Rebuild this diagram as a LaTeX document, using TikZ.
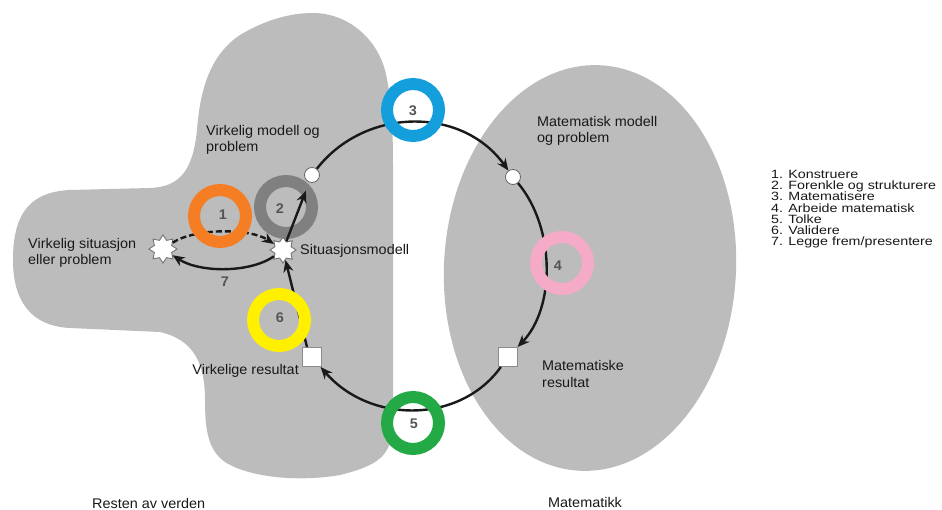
\documentclass[tikz,border=0pt]{standalone}
\usepackage{fontspec}
\setmainfont{Liberation Sans}
\newfontfamily\lblfont[FakeStretch=1.03]{Liberation Sans}
\newfontfamily\legfont[FakeStretch=1.19]{Liberation Sans}
\usetikzlibrary{arrows.meta,shapes.geometric}

\definecolor{areagrey}{RGB}{188,188,188}
\definecolor{numgrey}{RGB}{85,85,85}
\definecolor{ringorange}{RGB}{245,125,35}
\definecolor{ringgrey}{RGB}{128,128,128}
\definecolor{ringblue}{RGB}{20,158,220}
\definecolor{ringpink}{RGB}{245,170,200}
\definecolor{ringgreen}{RGB}{35,170,70}
\definecolor{ringyellow}{RGB}{255,240,0}

\begin{document}
\begin{tikzpicture}[x=1pt,y=-1pt,
  flow/.style={line width=2.4pt, draw=black!90, -{Stealth[length=12pt,width=10pt]}},
  ring/.style={circle, draw=#1, line width=12pt, minimum size=52pt, inner sep=0pt},
  num/.style={font=\lblfont\bfseries\fontsize{14}{14}\selectfont, text=numgrey, inner sep=0pt},
  lbl/.style={font=\lblfont\fontsize{14}{16.5}\selectfont, align=left, inner sep=0pt, text=black!90},
  leg/.style={font=\legfont\fontsize{12}{11.2}\selectfont, align=left, anchor=north west, inner sep=0pt, text=black!90},
  dot/.style={circle, fill=white, draw=black!60, line width=0.8pt, minimum size=15pt, inner sep=0pt},
  sq/.style={rectangle, fill=white, draw=black!45, line width=1pt, minimum size=19pt, inner sep=0pt},
  burst/.style={star, star points=8, star point ratio=1.5, fill=white, draw=black!55, line width=0.9pt, minimum size=#1, inner sep=0pt},
]
\useasboundingbox (0,0) rectangle (942,510);
\fill[white] (0,0) rectangle (942,510);

% the real world
\fill[areagrey] (313,13)
  .. controls (345,13) and (375,35) .. (385,70)
  .. controls (392,100) and (393,130) .. (393,170)
  -- (393,420)
  .. controls (393,455) and (380,465) .. (340,475)
  .. controls (300,482) and (250,478) .. (225,462)
  .. controls (208,450) and (205,430) .. (205,400)
  .. controls (205,365) and (195,340) .. (160,332)
  -- (70,328)
  .. controls (30,326) and (13,300) .. (13,260)
  .. controls (13,220) and (25,192) .. (70,190)
  -- (150,188)
  .. controls (180,187) and (193,170) .. (197,130)
  .. controls (200,90) and (210,55) .. (240,35)
  .. controls (265,20) and (290,13) .. (313,13) -- cycle;

% mathematics
\fill[areagrey, rotate around={-3:(590,268)}] (590,268) ellipse [x radius=146, y radius=203];

% stations of the cycle
\node[burst=28pt] (sL) at (163,249) {};
\node[burst=26pt] (sR) at (283,250) {};
\node[dot] (tl) at (312,175) {};
\node[dot] (tr) at (513,177) {};
\node[sq] (br) at (508,357) {};
\node[sq] (bl) at (312,357) {};

% transitions
\draw[flow, dash pattern=on 6pt off 3pt] (sL) .. controls (195,228) and (250,228) .. (sR);
\draw[flow] (sR) .. controls (250,273) and (200,273) .. (sL);
\draw[flow] (tl) .. controls (365,107) and (462,106) .. (tr);
\draw[flow] (tr) .. controls (556,229) and (555,308) .. (br);
\draw[flow] (br) .. controls (460,424) and (370,424) .. (bl);
\draw[flow] ([xshift=-5pt]bl.north) -- (sR);

% highlighted steps
\node[ring=ringorange] (r1) at (220,216) {};
\node[ring=ringgrey] (r2) at (286,207) {};
\node[ring=ringblue] (r3) at (413,110) {};
\node[ring=ringpink] (r4) at (562,263) {};
\node[ring=ringgreen] (r5) at (413,423) {};
\node[ring=ringyellow] (r6) at (279,320) {};

\draw[flow, shorten >=9pt] (sR) -- (tl);

\node[num] (n1) at (223,215) {1};
\node[num] (n2) at (280,209) {2};
\node[num] (n3) at (413,111) {3};
\node[num] (n4) at (558,266) {4};
\node[num] (n5) at (414,424) {5};
\node[num] (n6) at (280,318) {6};
\node[num] (n7) at (225,282) {7};

% labels
\node[lbl, anchor=west] (t1) at (206,140) {Virkelig modell og\\problem};
\node[lbl, anchor=west] (t2) at (28,253) {Virkelig situasjon\\eller problem};
\node[lbl, anchor=west] (t3) at (300,251) {Situasjonsmodell};
\node[lbl, anchor=east] (t4) at (299,371) {Virkelige resultat};
\node[lbl, anchor=west] (t5) at (537,131) {Matematisk modell\\og problem};
\node[lbl, anchor=west] (t6) at (542,374) {Matematiske\\resultat};
\node[lbl, anchor=west] (t7) at (92,503) {Resten av verden};
\node[lbl, anchor=west] (t8) at (548,502) {Matematikk};

% legend
\node[leg] (leg) at (771,170) {1. Konstruere\\2. Forenkle og strukturere\\3. Matematisere\\4. Arbeide matematisk\\5. Tolke\\6. Validere\\7. Legge frem/presentere};
\end{tikzpicture}
\end{document}
